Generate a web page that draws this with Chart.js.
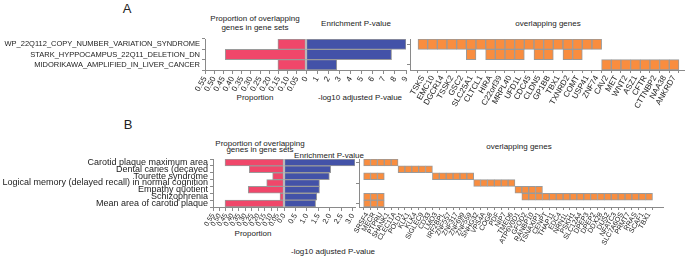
<!DOCTYPE html>
<html>
<head>
<meta charset="utf-8">
<script src="https://cdn.jsdelivr.net/npm/chart.js@4"></script>
<style>
body { margin: 0; background: #fff; width: 685px; height: 258px; position: relative; overflow: hidden; font-family: Arial, "Liberation Sans", sans-serif; color: #222; }
canvas { position: absolute; }
.t { position: absolute; white-space: nowrap; transform: translate(-50%, -50%); font-size: 8px; line-height: 1; }
</style>
</head>
<body>
<div class="t" style="left:127px;top:8px;font-size:13px">A</div>
<div class="t" style="left:255px;top:19px">Proportion of overlapping</div>
<div class="t" style="left:255px;top:28px">genes in gene sets</div>
<div class="t" style="left:356px;top:24px">Enrichment P-value</div>
<div class="t" style="left:548px;top:24px">overlapping genes</div>
<div class="t" style="left:255px;top:98px">Proportion</div>
<div class="t" style="left:360px;top:98px">-log10 adjusted P-value</div>

<div class="t" style="left:128px;top:124px;font-size:13px">B</div>
<div class="t" style="left:260px;top:144px">Proportion of overlapping</div>
<div class="t" style="left:260px;top:149.5px">genes in gene sets</div>
<div class="t" style="left:329px;top:156px">Enrichment P-value</div>
<div class="t" style="left:519px;top:147px">overlapping genes</div>
<div class="t" style="left:253px;top:234px">Proportion</div>
<div class="t" style="left:333px;top:252px">-log10 adjusted P-value</div>

<canvas id="propA" width="306" height="75" style="left:0;top:35px"></canvas>
<canvas id="pvalA" width="104" height="75" style="left:306px;top:35px"></canvas>
<canvas id="genesA" width="305" height="80" style="left:380px;top:35px"></canvas>
<canvas id="propB" width="284" height="100" style="left:0;top:150px"></canvas>
<canvas id="pvalB" width="76" height="100" style="left:284px;top:150px"></canvas>
<canvas id="genesB" width="356" height="105" style="left:329px;top:150px"></canvas>

<script>
// panel A
var setsA = ["WP_22Q112_COPY_NUMBER_VARIATION_SYNDROME", "STARK_HYPPOCAMPUS_22Q11_DELETION_DN", "MIDORIKAWA_AMPLIFIED_IN_LIVER_CANCER"];
var propA = [0.153, 0.44, 0.153];
var pvalA = [9.0, 7.7, 2.77];
var genesA = ["TSKS", "EMC10", "DGCR14", "TSSK2", "GSC2", "SLC25A1", "CLTCL1", "HIRA", "C22orf39", "MRPL40", "UFD1L", "CDC45", "CLDN5", "GP1BB", "TBX1", "TXNRD2", "COMT", "USP41", "ZNF74", "CAV2", "MET", "WNT2", "ASZ1", "CFTR", "CTTNBP2", "NAA38", "ANKRD7"];
var hitsA = [
    [0, 1, 2, 3, 4, 5, 6, 7, 8, 9, 10, 11, 12, 13, 14, 15, 16, 17, 18],
    [5, 7, 8, 9, 10, 12, 13, 15, 16],
    [19, 20, 21, 22, 23, 24, 25, 26]
];

// panel B
var setsB = ["Carotid plaque maximum area", "Dental caries (decayed", "Tourette syndrome", "Logical memory (delayed recall) in normal cognition", "Empathy quotient", "Schizophrenia", "Mean area of carotid plaque"];
var propB = [0.457, 0.269, 0.088, 0.134, 0.277, 0.031, 0.457];
var pvalB = [3.1, 2.04, 1.98, 1.55, 1.55, 1.43, 1.38];
var genesB = ["SRSF4", "MECR", "PTPRU", "SHANK1", "CLEC11A", "POLD1", "KLK1", "KLK4", "SIGLEC9", "CD33", "LMO3", "IRF2BPL", "ZNF557", "ZNF317", "ZNF699", "ZNF559", "SNHG32", "VPS4A", "COG8", "PDF", "NIP7", "TMED6", "ATP6V0D1", "GFOD2", "RANBP10", "TSNAXIP1", "CENPT", "THAP11", "EDC4", "NRN1L", "PSKH1", "SLC12A4", "DPEP3", "DPEP2", "DDX28", "DUS2", "NFATC3", "SLC7A6OS", "PRMT7", "RRAS", "SCAF1", "TBX1"];
var hitsB = [
    [0, 1, 2, 3, 4],
    [5, 6, 7, 8, 9],
    [0, 1, 2, 10, 11, 12, 13, 14, 15],
    [16, 17, 18, 19, 20, 21],
    [22, 23, 24, 25],
    [0, 1, 2, 23, 24, 25, 26, 27, 28, 29, 30, 31, 32, 33, 34, 35, 36, 37, 38, 39, 40, 41],
    [0, 1, 2]
];

var PINK = '#f0476a';
var BLUE = '#4352a8';
var ORANGE = '#f98d3f';
var EDGE = '#9a9a9a';
var AX = '#8a8a8a';
var TXT = '#222';
var FONT = 'Arial, "Liberation Sans", sans-serif';

Chart.defaults.font.family = FONT;
Chart.defaults.color = TXT;

function fixX(h) {
    return function (s) { s.height = h; s.paddingLeft = 0; s.paddingRight = 0; };
}
function fixY(w) {
    return function (s) { s.width = w; s.paddingTop = 0; s.paddingBottom = 0; };
}

function baseOptions(pad) {
    return {
        responsive: false,
        animation: false,
        devicePixelRatio: 1,
        layout: { padding: pad },
        plugins: { legend: { display: false }, tooltip: { enabled: false } }
    };
}

function axisX(h, min, max, step, fmt, size, reverse, extra) {
    var ax = {
        type: 'linear',
        reverse: reverse,
        min: min,
        max: max,
        afterFit: fixX(h),
        border: { color: AX },
        grid: { drawOnChartArea: false, color: AX, tickLength: 4 },
        ticks: { stepSize: step, autoSkip: false, minRotation: 60, maxRotation: 60, padding: 1, font: { size: size }, color: TXT, callback: fmt }
    };
    if (extra) Object.assign(ax.ticks, extra);
    return ax;
}

function barChart(id, cats, vals, color, xAxis, yWidth, ySize, pad) {
    var opts = baseOptions(pad);
    opts.indexAxis = 'y';
    opts.scales = {
        x: xAxis,
        y: yWidth > 0 ? {
            afterFit: fixY(yWidth),
            border: { color: AX },
            grid: { drawOnChartArea: false, color: AX, tickLength: 3 },
            ticks: { autoSkip: false, padding: 2, font: { size: ySize }, color: TXT }
        } : { display: false }
    };
    return new Chart(id, {
        type: 'bar',
        data: {
            labels: cats,
            datasets: [{
                data: vals,
                backgroundColor: color,
                borderColor: EDGE,
                borderWidth: 1,
                borderSkipped: false,
                barPercentage: 1,
                categoryPercentage: 1
            }]
        },
        options: opts
    });
}

function geneChart(id, genes, sets, hits, xmin, xmax, xh, size, pad) {
    var datasets = hits.map(function (idx, r) {
        return {
            data: idx.map(function (i) { return { x: i, y: [r - 0.5, r + 0.5] }; }),
            backgroundColor: ORANGE,
            borderColor: EDGE,
            borderWidth: 1,
            borderSkipped: false,
            barPercentage: 1,
            categoryPercentage: 1,
            grouped: false
        };
    });
    var opts = baseOptions(pad);
    opts.scales = {
        x: {
            type: 'linear',
            min: xmin,
            max: xmax,
            afterFit: fixX(xh),
            afterBuildTicks: function (s) {
                s.ticks = genes.map(function (g, i) { return { value: i }; });
            },
            border: { color: AX },
            grid: { drawOnChartArea: false, color: AX, tickLength: 3 },
            ticks: {
                autoSkip: false, minRotation: 60, maxRotation: 60, padding: 1,
                font: { size: size }, color: TXT,
                callback: function (v) { return genes[v]; }
            }
        },
        y: {
            type: 'linear',
            reverse: true,
            min: -0.5,
            max: sets.length - 0.5,
            afterFit: fixY(30),
            afterBuildTicks: function (s) {
                s.ticks = sets.map(function (g, i) { return { value: i }; });
            },
            border: { color: AX },
            grid: { drawOnChartArea: false, color: AX, tickLength: 3 },
            ticks: { callback: function () { return ''; } }
        }
    };
    return new Chart(id, { type: 'bar', data: { datasets: datasets }, options: opts });
}

// panel A
barChart('propA', setsA, propA, PINK,
    axisX(40, 0, 0.55, 0.05, function (v) { return v === 0 ? '0' : v.toFixed(2); }, 8, true),
    205, 7.5, { top: 4 });
barChart('pvalA', setsA, pvalA, BLUE,
    axisX(40, 0, 9, 1, function (v) { return String(v); }, 8, false),
    0, 8, { top: 4, right: 4 });
geneChart('genesA', genesA, setsA, hitsA, -0.8, 26.6, 45, 8, { top: 4 });

// panel B
barChart('propB', setsB, propB, PINK,
    axisX(43, 0, 0.55, 0.05, function (v) { return v === 0 ? '0.0' : v.toFixed(2); }, 7, true),
    213, 9, { top: 9 });
barChart('pvalB', setsB, pvalB, BLUE,
    axisX(43, 0, 3.1, 0.5, function (v) { return v.toFixed(1); }, 7.5, false, { includeBounds: false }),
    0, 8, { top: 9, right: 5 });
geneChart('genesB', genesB, setsB, hitsB, -0.65, 42.5, 48, 7, { top: 9, right: 22 });
</script>
</body>
</html>
